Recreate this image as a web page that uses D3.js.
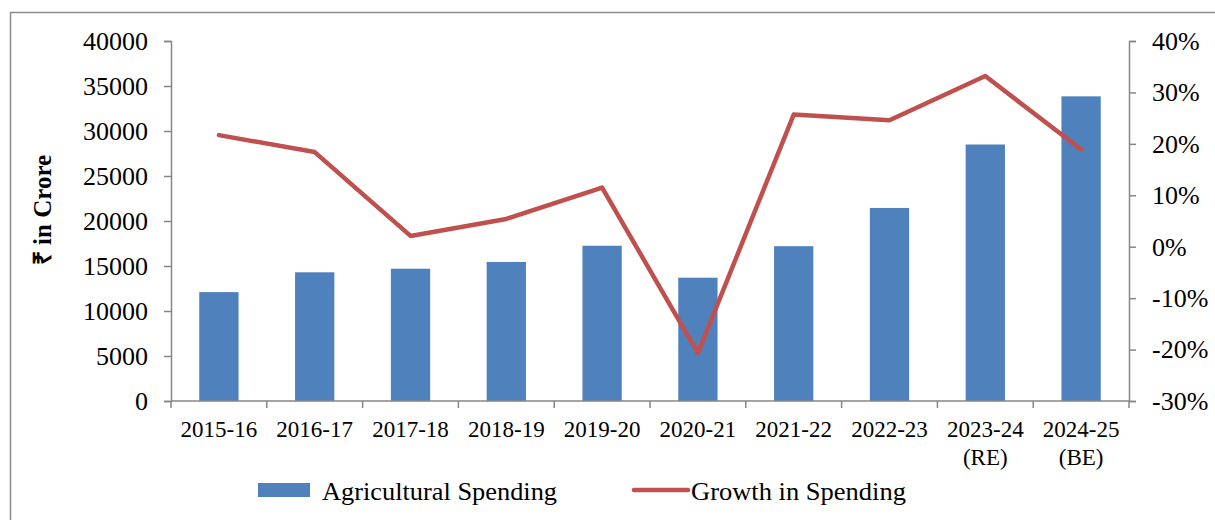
<!DOCTYPE html>
<html>
<head>
<meta charset="utf-8">
<script src="https://cdn.jsdelivr.net/npm/d3@7"></script>
<style>
  html, body { margin: 0; padding: 0; background: #fff; }
  svg { display: block; }
  text { font-family: "Liberation Serif", "Times New Roman", serif; fill: #000; }
</style>
</head>
<body>
<svg id="chart" width="1215" height="520"></svg>
<script>
const categories = ["2015-16", "2016-17", "2017-18", "2018-19", "2019-20", "2020-21", "2021-22", "2022-23", "2023-24\n(RE)", "2024-25\n(BE)"];
const spending = [12100, 14300, 14700, 15450, 17250, 13700, 17200, 21450, 28500, 33850];
const growth = [21.7, 18.4, 2.1, 5.4, 11.5, -20.7, 25.7, 24.6, 33.2, 18.9];
const leftTicks = [0, 5000, 10000, 15000, 20000, 25000, 30000, 35000, 40000];
const rightTicks = [-30, -20, -10, 0, 10, 20, 30, 40];

(function () {
const svg = d3.select("#chart");
const axisColor = "#868686";
const barColor = "#4F81BD";
const lineColor = "#C0504D";

// outer frame
svg.append("rect").attr("x", 10.5).attr("y", 12.5).attr("width", 1230).attr("height", 530)
  .attr("fill", "none").attr("stroke", "#8c8c8c").attr("stroke-width", 1.5);

const pL = 171, pR = 1129, pT = 41, pB = 401;

const x = d3.scaleBand().domain(categories).range([pL, pR]).paddingInner(0.59).paddingOuter(0.295);
const xb = d3.scaleBand().domain(categories).range([pL, pR]);
const yL = d3.scaleLinear().domain([0, 40000]).range([pB, pT]);
const yR = d3.scaleLinear().domain([-30, 40]).range([pB, pT]);

// bars
svg.append("g").selectAll("rect").data(spending).join("rect")
  .attr("x", (d, i) => x(categories[i]))
  .attr("width", x.bandwidth())
  .attr("y", d => yL(d))
  .attr("height", d => yL(0) - yL(d))
  .attr("fill", barColor);

// left axis
const gL = svg.append("g").attr("transform", `translate(${pL},0)`)
  .call(d3.axisLeft(yL).tickValues(leftTicks).tickSize(7).tickPadding(16).tickFormat(d3.format("d")));
gL.select(".domain").attr("stroke", axisColor).attr("stroke-width", 1.5);
gL.selectAll(".tick line").attr("stroke", axisColor).attr("stroke-width", 1.5);
gL.selectAll(".tick text").style("font-size", "26px").style("font-family", "Liberation Serif").attr("fill", "#000");

// right axis
const gR = svg.append("g").attr("transform", `translate(${pR},0)`)
  .call(d3.axisRight(yR).tickValues(rightTicks).tickSize(7).tickPadding(16).tickFormat(d => d + "%"));
gR.select(".domain").attr("stroke", axisColor).attr("stroke-width", 1.5);
gR.selectAll(".tick line").attr("stroke", axisColor).attr("stroke-width", 1.5);
gR.selectAll(".tick text").style("font-size", "26px").style("font-family", "Liberation Serif").attr("fill", "#000");

// bottom axis line & boundary ticks
const gB = svg.append("g");
gB.append("line").attr("x1", pL).attr("x2", pR).attr("y1", pB).attr("y2", pB)
  .attr("stroke", axisColor).attr("stroke-width", 1.5);
const bounds = categories.map(c => xb(c)).concat([pR]);
gB.selectAll("line.bt").data(bounds).join("line").attr("class", "bt")
  .attr("x1", d => d).attr("x2", d => d).attr("y1", pB).attr("y2", pB + 7)
  .attr("stroke", axisColor).attr("stroke-width", 1.5);

// x labels
const xl = gB.selectAll("text.xl").data(categories).join("text").attr("class", "xl")
  .attr("text-anchor", "middle").style("font-size", "23px")
  .attr("transform", d => `translate(${xb(d) + xb.bandwidth() / 2},437)`);
xl.each(function(d) {
  const lines = d.split("\n");
  d3.select(this).selectAll("tspan").data(lines).join("tspan")
    .attr("x", 0).attr("dy", (l, i) => i === 0 ? 0 : 28).text(l => l);
});

// line
const line = d3.line().x((d, i) => xb(categories[i]) + xb.bandwidth() / 2).y(d => yR(d));
svg.append("path").datum(growth).attr("d", line)
  .attr("fill", "none").attr("stroke", lineColor).attr("stroke-width", 4.5)
  .attr("stroke-linejoin", "round").attr("stroke-linecap", "round");

// y title
svg.append("text").attr("transform", "translate(51,210) rotate(-90)")
  .attr("text-anchor", "middle").style("font-size", "25px").style("font-weight", "bold")
  .text("₹ in Crore");

// legend
const lg = svg.append("g");
lg.append("rect").attr("x", 258).attr("y", 483).attr("width", 52).attr("height", 14).attr("fill", barColor);
lg.append("text").attr("x", 322).attr("y", 500).style("font-size", "26px")
  .attr("textLength", 235).attr("lengthAdjust", "spacingAndGlyphs").text("Agricultural Spending");
lg.append("line").attr("x1", 634).attr("x2", 688).attr("y1", 490).attr("y2", 490)
  .attr("stroke", lineColor).attr("stroke-width", 4.5).attr("stroke-linecap", "round");
lg.append("text").attr("x", 691).attr("y", 500).style("font-size", "26px")
  .attr("textLength", 215).attr("lengthAdjust", "spacingAndGlyphs").text("Growth in Spending");
})();
</script>
</body>
</html>
